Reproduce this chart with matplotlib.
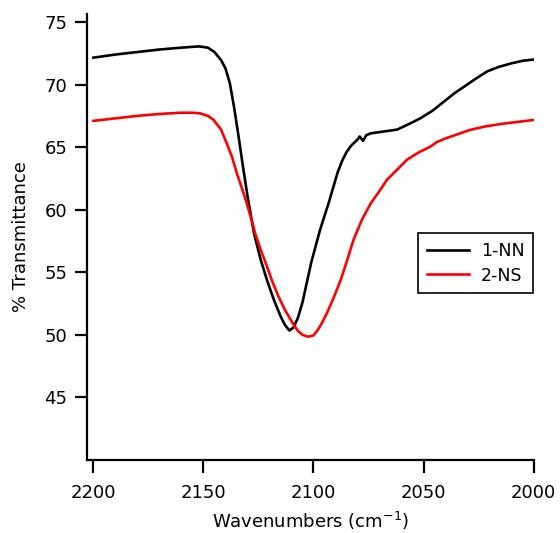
"""
    IR spectra of the two samples in the CN stretching region
"""

import matplotlib
matplotlib.use("Agg")
import matplotlib.pyplot as plt

# 1-NN, wavenumber (cm-1) and % transmittance
nn_wn = [2200, 2190, 2180, 2170, 2160, 2152, 2148, 2145, 2142, 2140, 2138,
         2136, 2134, 2132, 2130, 2127, 2124, 2121, 2118, 2115, 2113,
         2111, 2109, 2107, 2105, 2103, 2101, 2099, 2097, 2095, 2093, 2091,
         2089, 2087, 2085, 2083, 2080, 2079, 2077.5, 2076, 2074, 2068, 2062,
         2056, 2051.5, 2046, 2041, 2036, 2031, 2026, 2021, 2016, 2010, 2005,
         2000]
nn_t = [72.15, 72.4, 72.6, 72.8, 72.95, 73.05, 72.95, 72.6, 71.95, 71.3, 70.1,
        68.1, 65.8, 63.4, 61.1, 58.1, 56.0, 54.3, 52.8, 51.5, 50.8,
        50.35, 50.6, 51.4, 52.6, 54.2, 55.8, 57.1, 58.4, 59.5, 60.6, 61.8,
        63.0, 63.9, 64.6, 65.1, 65.6, 65.85, 65.5, 65.95, 66.1, 66.25, 66.4,
        66.9, 67.3, 67.9, 68.6, 69.3, 69.9, 70.5, 71.06, 71.4, 71.7, 71.9,
        72.0]

# 2-NS
ns_wn = [2200, 2190, 2180, 2170, 2160, 2155, 2151.5, 2148, 2145.5, 2142,
         2139.4, 2137, 2134.8, 2132.5, 2130.3, 2128, 2126.5, 2124, 2121, 2119,
         2116, 2113, 2111, 2109, 2107, 2105, 2102.5, 2100, 2098, 2096, 2094,
         2091, 2087.6, 2085, 2081.8, 2078, 2074, 2070, 2066.6, 2062, 2057.5,
         2052, 2047, 2044, 2040, 2035, 2029, 2022, 2015, 2008, 2000]
ns_t = [67.1, 67.3, 67.5, 67.65, 67.75, 67.75, 67.7, 67.5, 67.2, 66.4,
        65.3, 64.2, 62.9, 61.7, 60.5, 59.1, 58.1, 56.8, 55.4, 54.4,
        53.1, 52.0, 51.4, 50.8, 50.3, 50.0, 49.85, 49.95, 50.4, 51.0, 51.7,
        52.9, 54.4, 55.8, 57.6, 59.2, 60.5, 61.5, 62.4, 63.2, 64.0,
        64.6, 65.03, 65.4, 65.7, 66.0, 66.37, 66.65, 66.85, 67.0, 67.17]

x_ticks = [2200, 2150, 2100, 2050, 2000]
y_ticks = [45, 50, 55, 60, 65, 70, 75]

plt.rcParams["font.family"] = "DejaVu Sans"
plt.rcParams["font.size"] = 13

fig = plt.figure(figsize=(5.6, 5.33), dpi=100)
ax = fig.add_axes([0.155, 0.137, 0.799, 0.837])

ax.plot(nn_wn, nn_t, color="black", lw=1.9, label="1-NN")
ax.plot(ns_wn, ns_t, color="#ff0000", lw=1.9, label="2-NS")

ax.set_xlim(2203, 1999.7)
ax.set_ylim(40, 75.65)
ax.set_xticks(x_ticks)
ax.set_yticks(y_ticks)

for side in ("top", "right"):
    ax.spines[side].set_visible(False)
for side in ("left", "bottom"):
    ax.spines[side].set_linewidth(1.6)
ax.tick_params(direction="out", length=9, width=1.6, labelsize=13)
ax.tick_params(axis="x", pad=8)
ax.tick_params(axis="y", pad=5)

ax.set_xlabel("Wavenumbers (cm$^{-1}$)", fontsize=13, labelpad=6)
ax.set_ylabel("% Transmittance", fontsize=13, labelpad=10)

leg = ax.legend(loc="upper left", bbox_to_anchor=(0.741, 0.509),
                borderaxespad=0, fancybox=False, edgecolor="black",
                framealpha=1, handlelength=2.4, handletextpad=0.7,
                fontsize=12.5, borderpad=0.5, labelspacing=0.4)
leg.get_frame().set_linewidth(1.2)

fig.savefig("out.png", dpi=100)
